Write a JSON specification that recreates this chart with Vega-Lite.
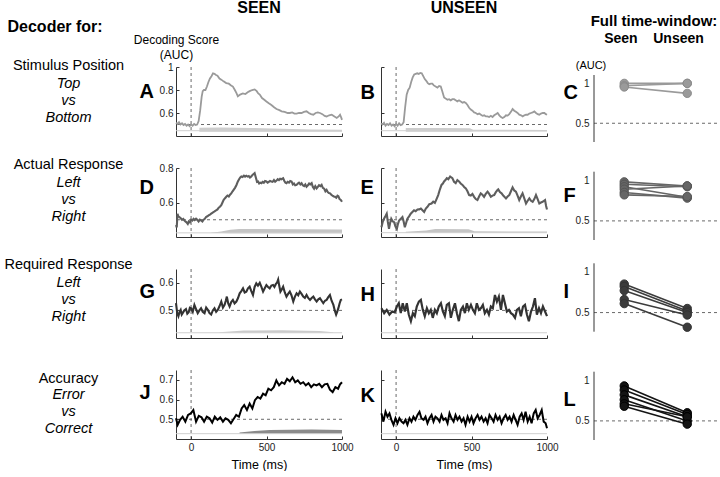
{
 "$schema": "https://vega.github.io/schema/vega-lite/v6.json",
 "padding": 0,
 "background": "white",
 "config": {
  "font": "Liberation Sans",
  "view": {"stroke": null},
  "axis": {"grid": false, "domainColor": "#333", "domainWidth": 1, "labelFont": "Liberation Sans", "labelFontSize": 10, "labelColor": "#222", "titleFont": "Liberation Sans", "titleColor": "#000", "ticks": true, "tickSize": -3, "tickColor": "#333", "tickWidth": 1, "labelFlush": false, "labelOverlap": false, "labelBound": false},
  "title": {"font": "Liberation Sans", "color": "#000", "subtitleFont": "Liberation Sans", "subtitleColor": "#000"}
 },
 "datasets": {
  "A": [{"t":-100,"v":0.515},{"t":-90,"v":0.505},{"t":-80,"v":0.52},{"t":-70,"v":0.5},{"t":-60,"v":0.51},{"t":-50,"v":0.495},{"t":-40,"v":0.505},{"t":-30,"v":0.49},{"t":-20,"v":0.5},{"t":-10,"v":0.485},{"t":0,"v":0.5},{"t":10,"v":0.49},{"t":20,"v":0.505},{"t":30,"v":0.495},{"t":40,"v":0.5},{"t":50,"v":0.53},{"t":60,"v":0.62},{"t":70,"v":0.74},{"t":77,"v":0.79},{"t":85,"v":0.8},{"t":95,"v":0.8},{"t":105,"v":0.83},{"t":115,"v":0.87},{"t":125,"v":0.9},{"t":135,"v":0.92},{"t":145,"v":0.945},{"t":155,"v":0.94},{"t":165,"v":0.93},{"t":175,"v":0.925},{"t":188,"v":0.9},{"t":200,"v":0.89},{"t":215,"v":0.875},{"t":233,"v":0.86},{"t":250,"v":0.855},{"t":265,"v":0.84},{"t":277,"v":0.83},{"t":290,"v":0.8},{"t":300,"v":0.775},{"t":310,"v":0.745},{"t":325,"v":0.76},{"t":343,"v":0.77},{"t":360,"v":0.765},{"t":375,"v":0.78},{"t":388,"v":0.79},{"t":405,"v":0.8},{"t":421,"v":0.805},{"t":435,"v":0.79},{"t":445,"v":0.77},{"t":455,"v":0.76},{"t":470,"v":0.73},{"t":485,"v":0.715},{"t":499,"v":0.7},{"t":515,"v":0.685},{"t":532,"v":0.67},{"t":550,"v":0.65},{"t":566,"v":0.635},{"t":585,"v":0.625},{"t":600,"v":0.615},{"t":620,"v":0.61},{"t":640,"v":0.6},{"t":654,"v":0.6},{"t":670,"v":0.605},{"t":685,"v":0.595},{"t":699,"v":0.594},{"t":715,"v":0.6},{"t":732,"v":0.6},{"t":748,"v":0.61},{"t":765,"v":0.615},{"t":780,"v":0.6},{"t":795,"v":0.59},{"t":810,"v":0.585},{"t":825,"v":0.6},{"t":840,"v":0.605},{"t":854,"v":0.6},{"t":870,"v":0.59},{"t":885,"v":0.575},{"t":898,"v":0.57},{"t":915,"v":0.58},{"t":932,"v":0.585},{"t":950,"v":0.57},{"t":965,"v":0.557},{"t":978,"v":0.57},{"t":987,"v":0.585},{"t":995,"v":0.56},{"t":1000,"v":0.54}],
  "B": [{"t":-100,"v":0.51},{"t":-90,"v":0.5},{"t":-80,"v":0.515},{"t":-70,"v":0.49},{"t":-60,"v":0.505},{"t":-50,"v":0.495},{"t":-40,"v":0.51},{"t":-30,"v":0.49},{"t":-20,"v":0.5},{"t":-10,"v":0.485},{"t":0,"v":0.505},{"t":10,"v":0.49},{"t":20,"v":0.51},{"t":30,"v":0.495},{"t":40,"v":0.5},{"t":50,"v":0.52},{"t":60,"v":0.65},{"t":70,"v":0.76},{"t":80,"v":0.8},{"t":90,"v":0.82},{"t":100,"v":0.87},{"t":110,"v":0.91},{"t":120,"v":0.935},{"t":130,"v":0.94},{"t":140,"v":0.945},{"t":150,"v":0.94},{"t":160,"v":0.948},{"t":170,"v":0.945},{"t":180,"v":0.92},{"t":190,"v":0.895},{"t":200,"v":0.88},{"t":210,"v":0.86},{"t":220,"v":0.85},{"t":230,"v":0.855},{"t":240,"v":0.855},{"t":250,"v":0.84},{"t":262,"v":0.83},{"t":274,"v":0.82},{"t":285,"v":0.835},{"t":296,"v":0.83},{"t":306,"v":0.79},{"t":318,"v":0.735},{"t":330,"v":0.725},{"t":340,"v":0.715},{"t":351,"v":0.72},{"t":362,"v":0.71},{"t":373,"v":0.72},{"t":384,"v":0.72},{"t":395,"v":0.71},{"t":406,"v":0.7},{"t":417,"v":0.71},{"t":429,"v":0.7},{"t":440,"v":0.69},{"t":451,"v":0.695},{"t":462,"v":0.687},{"t":473,"v":0.67},{"t":484,"v":0.645},{"t":495,"v":0.63},{"t":506,"v":0.62},{"t":517,"v":0.605},{"t":528,"v":0.6},{"t":540,"v":0.59},{"t":551,"v":0.595},{"t":562,"v":0.585},{"t":573,"v":0.575},{"t":584,"v":0.58},{"t":595,"v":0.57},{"t":606,"v":0.571},{"t":617,"v":0.565},{"t":628,"v":0.575},{"t":639,"v":0.565},{"t":650,"v":0.58},{"t":661,"v":0.59},{"t":673,"v":0.6},{"t":684,"v":0.58},{"t":695,"v":0.565},{"t":706,"v":0.557},{"t":717,"v":0.565},{"t":728,"v":0.58},{"t":739,"v":0.577},{"t":750,"v":0.59},{"t":761,"v":0.61},{"t":772,"v":0.635},{"t":783,"v":0.62},{"t":794,"v":0.61},{"t":805,"v":0.6},{"t":816,"v":0.585},{"t":828,"v":0.58},{"t":839,"v":0.571},{"t":850,"v":0.58},{"t":861,"v":0.585},{"t":872,"v":0.585},{"t":883,"v":0.595},{"t":894,"v":0.6},{"t":905,"v":0.605},{"t":916,"v":0.614},{"t":927,"v":0.6},{"t":938,"v":0.59},{"t":949,"v":0.585},{"t":960,"v":0.595},{"t":972,"v":0.6},{"t":983,"v":0.6},{"t":992,"v":0.59},{"t":1000,"v":0.585}],
  "D": [{"t":-100,"v":0.47},{"t":-95,"v":0.455},{"t":-90,"v":0.535},{"t":-85,"v":0.52},{"t":-78,"v":0.516},{"t":-70,"v":0.51},{"t":-60,"v":0.5},{"t":-52,"v":0.505},{"t":-45,"v":0.496},{"t":-38,"v":0.49},{"t":-30,"v":0.485},{"t":-22,"v":0.476},{"t":-15,"v":0.49},{"t":-8,"v":0.485},{"t":0,"v":0.5},{"t":8,"v":0.495},{"t":16,"v":0.505},{"t":24,"v":0.498},{"t":33,"v":0.506},{"t":41,"v":0.5},{"t":50,"v":0.49},{"t":58,"v":0.5},{"t":66,"v":0.496},{"t":75,"v":0.49},{"t":83,"v":0.5},{"t":91,"v":0.505},{"t":99,"v":0.516},{"t":108,"v":0.52},{"t":116,"v":0.525},{"t":125,"v":0.53},{"t":133,"v":0.535},{"t":141,"v":0.54},{"t":150,"v":0.545},{"t":158,"v":0.55},{"t":166,"v":0.555},{"t":175,"v":0.56},{"t":183,"v":0.57},{"t":191,"v":0.575},{"t":200,"v":0.584},{"t":208,"v":0.6},{"t":216,"v":0.615},{"t":225,"v":0.625},{"t":233,"v":0.633},{"t":241,"v":0.64},{"t":250,"v":0.635},{"t":258,"v":0.645},{"t":266,"v":0.653},{"t":275,"v":0.665},{"t":283,"v":0.675},{"t":291,"v":0.685},{"t":300,"v":0.7},{"t":310,"v":0.722},{"t":318,"v":0.735},{"t":326,"v":0.745},{"t":333,"v":0.751},{"t":341,"v":0.748},{"t":350,"v":0.756},{"t":358,"v":0.75},{"t":366,"v":0.755},{"t":374,"v":0.75},{"t":382,"v":0.753},{"t":390,"v":0.745},{"t":399,"v":0.751},{"t":407,"v":0.76},{"t":414,"v":0.765},{"t":421,"v":0.77},{"t":429,"v":0.745},{"t":437,"v":0.72},{"t":444,"v":0.722},{"t":451,"v":0.71},{"t":459,"v":0.715},{"t":466,"v":0.712},{"t":474,"v":0.72},{"t":482,"v":0.715},{"t":490,"v":0.725},{"t":499,"v":0.722},{"t":507,"v":0.715},{"t":515,"v":0.72},{"t":523,"v":0.725},{"t":532,"v":0.722},{"t":540,"v":0.72},{"t":549,"v":0.73},{"t":557,"v":0.72},{"t":566,"v":0.727},{"t":574,"v":0.735},{"t":582,"v":0.73},{"t":590,"v":0.738},{"t":599,"v":0.735},{"t":610,"v":0.741},{"t":618,"v":0.725},{"t":625,"v":0.715},{"t":632,"v":0.712},{"t":640,"v":0.72},{"t":649,"v":0.715},{"t":657,"v":0.725},{"t":666,"v":0.722},{"t":674,"v":0.705},{"t":682,"v":0.71},{"t":690,"v":0.7},{"t":699,"v":0.702},{"t":707,"v":0.71},{"t":715,"v":0.715},{"t":724,"v":0.705},{"t":732,"v":0.712},{"t":740,"v":0.7},{"t":749,"v":0.695},{"t":757,"v":0.705},{"t":765,"v":0.692},{"t":774,"v":0.7},{"t":782,"v":0.71},{"t":790,"v":0.705},{"t":799,"v":0.712},{"t":807,"v":0.69},{"t":815,"v":0.68},{"t":823,"v":0.695},{"t":832,"v":0.682},{"t":840,"v":0.69},{"t":848,"v":0.7},{"t":857,"v":0.695},{"t":865,"v":0.702},{"t":873,"v":0.685},{"t":882,"v":0.68},{"t":890,"v":0.665},{"t":898,"v":0.673},{"t":906,"v":0.66},{"t":913,"v":0.655},{"t":921,"v":0.653},{"t":929,"v":0.645},{"t":937,"v":0.64},{"t":946,"v":0.635},{"t":954,"v":0.633},{"t":962,"v":0.628},{"t":970,"v":0.64},{"t":976,"v":0.637},{"t":984,"v":0.62},{"t":992,"v":0.615},{"t":1000,"v":0.604}],
  "E": [{"t":-97,"v":0.457},{"t":-88,"v":0.49},{"t":-80,"v":0.506},{"t":-71,"v":0.52},{"t":-62,"v":0.535},{"t":-55,"v":0.49},{"t":-47,"v":0.447},{"t":-40,"v":0.48},{"t":-32,"v":0.506},{"t":-22,"v":0.49},{"t":-13,"v":0.486},{"t":-4,"v":0.46},{"t":5,"v":0.447},{"t":12,"v":0.475},{"t":20,"v":0.496},{"t":30,"v":0.505},{"t":42,"v":0.516},{"t":50,"v":0.49},{"t":58,"v":0.457},{"t":66,"v":0.48},{"t":75,"v":0.506},{"t":86,"v":0.52},{"t":97,"v":0.535},{"t":108,"v":0.545},{"t":119,"v":0.555},{"t":130,"v":0.55},{"t":142,"v":0.559},{"t":153,"v":0.56},{"t":164,"v":0.565},{"t":175,"v":0.555},{"t":186,"v":0.545},{"t":197,"v":0.565},{"t":208,"v":0.575},{"t":220,"v":0.59},{"t":235,"v":0.594},{"t":246,"v":0.605},{"t":257,"v":0.598},{"t":268,"v":0.62},{"t":279,"v":0.643},{"t":290,"v":0.675},{"t":301,"v":0.702},{"t":310,"v":0.71},{"t":318,"v":0.722},{"t":327,"v":0.73},{"t":336,"v":0.741},{"t":346,"v":0.735},{"t":358,"v":0.751},{"t":366,"v":0.745},{"t":373,"v":0.741},{"t":384,"v":0.72},{"t":395,"v":0.712},{"t":406,"v":0.73},{"t":417,"v":0.722},{"t":428,"v":0.71},{"t":440,"v":0.702},{"t":451,"v":0.69},{"t":462,"v":0.682},{"t":473,"v":0.665},{"t":484,"v":0.643},{"t":495,"v":0.64},{"t":506,"v":0.65},{"t":517,"v":0.633},{"t":528,"v":0.62},{"t":539,"v":0.614},{"t":550,"v":0.635},{"t":561,"v":0.653},{"t":572,"v":0.645},{"t":583,"v":0.633},{"t":594,"v":0.65},{"t":606,"v":0.663},{"t":617,"v":0.65},{"t":628,"v":0.633},{"t":639,"v":0.64},{"t":650,"v":0.643},{"t":661,"v":0.66},{"t":672,"v":0.672},{"t":677,"v":0.676},{"t":688,"v":0.66},{"t":699,"v":0.653},{"t":710,"v":0.64},{"t":721,"v":0.63},{"t":728,"v":0.624},{"t":739,"v":0.635},{"t":750,"v":0.643},{"t":761,"v":0.665},{"t":772,"v":0.688},{"t":783,"v":0.67},{"t":794,"v":0.663},{"t":805,"v":0.64},{"t":816,"v":0.614},{"t":827,"v":0.635},{"t":838,"v":0.653},{"t":849,"v":0.625},{"t":861,"v":0.594},{"t":872,"v":0.61},{"t":883,"v":0.624},{"t":894,"v":0.61},{"t":905,"v":0.604},{"t":916,"v":0.62},{"t":927,"v":0.643},{"t":938,"v":0.62},{"t":949,"v":0.594},{"t":960,"v":0.6},{"t":971,"v":0.604},{"t":980,"v":0.61},{"t":987,"v":0.614},{"t":994,"v":0.58},{"t":1000,"v":0.559}],
  "G": [{"t":-100,"v":0.526},{"t":-92,"v":0.49},{"t":-84,"v":0.479},{"t":-76,"v":0.495},{"t":-69,"v":0.502},{"t":-62,"v":0.485},{"t":-56,"v":0.49},{"t":-45,"v":0.5},{"t":-34,"v":0.505},{"t":-25,"v":0.488},{"t":-16,"v":0.493},{"t":-8,"v":0.51},{"t":0,"v":0.508},{"t":11,"v":0.495},{"t":22,"v":0.52},{"t":33,"v":0.505},{"t":44,"v":0.49},{"t":55,"v":0.5},{"t":66,"v":0.508},{"t":77,"v":0.495},{"t":89,"v":0.49},{"t":100,"v":0.51},{"t":111,"v":0.502},{"t":122,"v":0.49},{"t":133,"v":0.485},{"t":144,"v":0.5},{"t":155,"v":0.508},{"t":166,"v":0.495},{"t":177,"v":0.502},{"t":188,"v":0.515},{"t":200,"v":0.532},{"t":211,"v":0.51},{"t":222,"v":0.52},{"t":230,"v":0.535},{"t":237,"v":0.55},{"t":246,"v":0.525},{"t":255,"v":0.514},{"t":266,"v":0.53},{"t":277,"v":0.538},{"t":288,"v":0.525},{"t":300,"v":0.532},{"t":311,"v":0.545},{"t":322,"v":0.562},{"t":333,"v":0.57},{"t":344,"v":0.58},{"t":355,"v":0.565},{"t":366,"v":0.568},{"t":377,"v":0.58},{"t":388,"v":0.586},{"t":399,"v":0.57},{"t":410,"v":0.556},{"t":421,"v":0.585},{"t":432,"v":0.598},{"t":443,"v":0.59},{"t":455,"v":0.6},{"t":466,"v":0.585},{"t":477,"v":0.568},{"t":488,"v":0.58},{"t":499,"v":0.592},{"t":510,"v":0.585},{"t":521,"v":0.58},{"t":532,"v":0.59},{"t":543,"v":0.592},{"t":552,"v":0.585},{"t":561,"v":0.595},{"t":569,"v":0.6},{"t":577,"v":0.612},{"t":584,"v":0.59},{"t":592,"v":0.568},{"t":600,"v":0.575},{"t":610,"v":0.586},{"t":621,"v":0.565},{"t":632,"v":0.55},{"t":643,"v":0.56},{"t":654,"v":0.568},{"t":665,"v":0.555},{"t":677,"v":0.532},{"t":688,"v":0.55},{"t":699,"v":0.562},{"t":710,"v":0.555},{"t":721,"v":0.568},{"t":732,"v":0.56},{"t":743,"v":0.55},{"t":754,"v":0.545},{"t":765,"v":0.556},{"t":776,"v":0.545},{"t":788,"v":0.538},{"t":799,"v":0.545},{"t":810,"v":0.55},{"t":821,"v":0.54},{"t":832,"v":0.532},{"t":843,"v":0.54},{"t":854,"v":0.544},{"t":865,"v":0.535},{"t":876,"v":0.526},{"t":887,"v":0.535},{"t":898,"v":0.538},{"t":909,"v":0.548},{"t":920,"v":0.556},{"t":931,"v":0.535},{"t":943,"v":0.52},{"t":952,"v":0.5},{"t":961,"v":0.485},{"t":968,"v":0.495},{"t":976,"v":0.508},{"t":984,"v":0.525},{"t":992,"v":0.538},{"t":1000,"v":0.54}],
  "H": [{"t":-97,"v":0.508},{"t":-79,"v":0.49},{"t":-62,"v":0.502},{"t":-44,"v":0.485},{"t":-26,"v":0.496},{"t":-9,"v":0.493},{"t":5,"v":0.514},{"t":18,"v":0.526},{"t":31,"v":0.49},{"t":44,"v":0.526},{"t":58,"v":0.496},{"t":71,"v":0.526},{"t":84,"v":0.485},{"t":98,"v":0.461},{"t":111,"v":0.49},{"t":124,"v":0.479},{"t":137,"v":0.514},{"t":151,"v":0.532},{"t":164,"v":0.538},{"t":177,"v":0.502},{"t":190,"v":0.479},{"t":204,"v":0.508},{"t":217,"v":0.49},{"t":230,"v":0.502},{"t":243,"v":0.473},{"t":257,"v":0.502},{"t":270,"v":0.49},{"t":283,"v":0.514},{"t":297,"v":0.526},{"t":310,"v":0.496},{"t":323,"v":0.479},{"t":336,"v":0.52},{"t":350,"v":0.526},{"t":363,"v":0.473},{"t":376,"v":0.502},{"t":390,"v":0.526},{"t":403,"v":0.49},{"t":416,"v":0.461},{"t":429,"v":0.502},{"t":443,"v":0.514},{"t":456,"v":0.49},{"t":469,"v":0.526},{"t":482,"v":0.502},{"t":496,"v":0.52},{"t":509,"v":0.502},{"t":522,"v":0.49},{"t":535,"v":0.526},{"t":549,"v":0.502},{"t":562,"v":0.508},{"t":575,"v":0.52},{"t":588,"v":0.49},{"t":602,"v":0.502},{"t":615,"v":0.485},{"t":628,"v":0.514},{"t":641,"v":0.508},{"t":655,"v":0.556},{"t":668,"v":0.532},{"t":681,"v":0.55},{"t":695,"v":0.502},{"t":708,"v":0.556},{"t":721,"v":0.526},{"t":734,"v":0.496},{"t":748,"v":0.502},{"t":761,"v":0.49},{"t":774,"v":0.485},{"t":788,"v":0.473},{"t":801,"v":0.502},{"t":814,"v":0.508},{"t":827,"v":0.479},{"t":841,"v":0.514},{"t":854,"v":0.52},{"t":867,"v":0.485},{"t":880,"v":0.461},{"t":894,"v":0.496},{"t":907,"v":0.514},{"t":920,"v":0.544},{"t":933,"v":0.485},{"t":947,"v":0.508},{"t":960,"v":0.49},{"t":973,"v":0.514},{"t":987,"v":0.496},{"t":1000,"v":0.479}],
  "J": [{"t":-100,"v":0.505},{"t":-89,"v":0.472},{"t":-73,"v":0.497},{"t":-56,"v":0.513},{"t":-38,"v":0.488},{"t":-20,"v":0.522},{"t":-2,"v":0.53},{"t":15,"v":0.547},{"t":33,"v":0.488},{"t":51,"v":0.517},{"t":69,"v":0.51},{"t":86,"v":0.488},{"t":104,"v":0.513},{"t":122,"v":0.505},{"t":140,"v":0.483},{"t":157,"v":0.513},{"t":175,"v":0.497},{"t":193,"v":0.51},{"t":211,"v":0.488},{"t":228,"v":0.505},{"t":246,"v":0.497},{"t":264,"v":0.48},{"t":281,"v":0.5},{"t":299,"v":0.522},{"t":317,"v":0.513},{"t":335,"v":0.555},{"t":352,"v":0.572},{"t":370,"v":0.547},{"t":388,"v":0.58},{"t":406,"v":0.555},{"t":423,"v":0.597},{"t":441,"v":0.613},{"t":459,"v":0.605},{"t":477,"v":0.63},{"t":494,"v":0.622},{"t":512,"v":0.655},{"t":530,"v":0.647},{"t":548,"v":0.663},{"t":565,"v":0.697},{"t":583,"v":0.672},{"t":601,"v":0.688},{"t":619,"v":0.68},{"t":636,"v":0.705},{"t":654,"v":0.693},{"t":672,"v":0.713},{"t":690,"v":0.688},{"t":707,"v":0.697},{"t":725,"v":0.68},{"t":743,"v":0.688},{"t":760,"v":0.672},{"t":778,"v":0.683},{"t":796,"v":0.663},{"t":814,"v":0.677},{"t":831,"v":0.672},{"t":849,"v":0.68},{"t":867,"v":0.663},{"t":885,"v":0.677},{"t":903,"v":0.68},{"t":920,"v":0.65},{"t":938,"v":0.638},{"t":956,"v":0.663},{"t":974,"v":0.655},{"t":987,"v":0.677},{"t":1000,"v":0.688}],
  "K": [{"t":-97,"v":0.53},{"t":-84,"v":0.488},{"t":-70,"v":0.538},{"t":-57,"v":0.513},{"t":-44,"v":0.53},{"t":-31,"v":0.497},{"t":-17,"v":0.472},{"t":-4,"v":0.505},{"t":9,"v":0.48},{"t":22,"v":0.505},{"t":36,"v":0.488},{"t":49,"v":0.48},{"t":62,"v":0.497},{"t":75,"v":0.472},{"t":89,"v":0.505},{"t":102,"v":0.488},{"t":115,"v":0.513},{"t":128,"v":0.497},{"t":142,"v":0.522},{"t":155,"v":0.538},{"t":168,"v":0.505},{"t":182,"v":0.497},{"t":195,"v":0.513},{"t":208,"v":0.48},{"t":221,"v":0.505},{"t":235,"v":0.522},{"t":248,"v":0.488},{"t":261,"v":0.513},{"t":274,"v":0.505},{"t":288,"v":0.488},{"t":301,"v":0.522},{"t":314,"v":0.497},{"t":328,"v":0.505},{"t":341,"v":0.48},{"t":354,"v":0.53},{"t":367,"v":0.505},{"t":381,"v":0.488},{"t":394,"v":0.522},{"t":407,"v":0.497},{"t":420,"v":0.513},{"t":434,"v":0.488},{"t":447,"v":0.505},{"t":460,"v":0.472},{"t":474,"v":0.513},{"t":487,"v":0.488},{"t":500,"v":0.513},{"t":513,"v":0.48},{"t":527,"v":0.505},{"t":540,"v":0.522},{"t":553,"v":0.497},{"t":566,"v":0.513},{"t":580,"v":0.488},{"t":593,"v":0.505},{"t":606,"v":0.48},{"t":619,"v":0.522},{"t":633,"v":0.505},{"t":646,"v":0.488},{"t":659,"v":0.522},{"t":673,"v":0.497},{"t":686,"v":0.513},{"t":699,"v":0.48},{"t":712,"v":0.505},{"t":726,"v":0.522},{"t":739,"v":0.497},{"t":752,"v":0.513},{"t":765,"v":0.488},{"t":779,"v":0.522},{"t":792,"v":0.497},{"t":805,"v":0.472},{"t":819,"v":0.513},{"t":832,"v":0.53},{"t":845,"v":0.497},{"t":858,"v":0.538},{"t":872,"v":0.488},{"t":885,"v":0.513},{"t":898,"v":0.48},{"t":912,"v":0.53},{"t":925,"v":0.547},{"t":938,"v":0.505},{"t":951,"v":0.522},{"t":965,"v":0.547},{"t":978,"v":0.488},{"t":991,"v":0.48},{"t":1000,"v":0.455}],
  "bA": [{"t":55,"lo":0.438,"hi":0.472},{"t":200,"lo":0.438,"hi":0.474},{"t":400,"lo":0.438,"hi":0.47},{"t":600,"lo":0.438,"hi":0.462},{"t":800,"lo":0.438,"hi":0.457},{"t":1000,"lo":0.438,"hi":0.454}],
  "bB": [{"t":64,"lo":0.437,"hi":0.47},{"t":300,"lo":0.437,"hi":0.47},{"t":490,"lo":0.437,"hi":0.468},{"t":510,"lo":0.44,"hi":0.455},{"t":1000,"lo":0.44,"hi":0.452}],
  "bD": [{"t":133,"lo":0.423,"hi":0.425},{"t":200,"lo":0.423,"hi":0.432},{"t":260,"lo":0.422,"hi":0.442},{"t":320,"lo":0.422,"hi":0.447},{"t":1000,"lo":0.422,"hi":0.444}],
  "bE": [{"t":64,"lo":0.424,"hi":0.43},{"t":200,"lo":0.424,"hi":0.438},{"t":260,"lo":0.424,"hi":0.446},{"t":480,"lo":0.424,"hi":0.445},{"t":520,"lo":0.424,"hi":0.433},{"t":1000,"lo":0.424,"hi":0.432}],
  "bG": [{"t":188,"lo":0.419,"hi":0.421},{"t":350,"lo":0.419,"hi":0.427},{"t":600,"lo":0.419,"hi":0.428},{"t":850,"lo":0.419,"hi":0.425},{"t":942,"lo":0.419,"hi":0.421}],
  "bJ": [{"t":321,"lo":0.427,"hi":0.433},{"t":420,"lo":0.427,"hi":0.44},{"t":520,"lo":0.427,"hi":0.446},{"t":800,"lo":0.427,"hi":0.448},{"t":1000,"lo":0.427,"hi":0.446}],
  "C": [{"s":1,"cond":"Seen","v":1.0},{"s":1,"cond":"Unseen","v":1.0},{"s":2,"cond":"Seen","v":0.97},{"s":2,"cond":"Unseen","v":1.0},{"s":3,"cond":"Seen","v":0.955},{"s":3,"cond":"Unseen","v":0.875}],
  "F": [{"s":1,"cond":"Seen","v":0.98},{"s":1,"cond":"Unseen","v":0.93},{"s":2,"cond":"Seen","v":0.95},{"s":2,"cond":"Unseen","v":0.92},{"s":3,"cond":"Seen","v":0.92},{"s":3,"cond":"Unseen","v":0.79},{"s":4,"cond":"Seen","v":0.89},{"s":4,"cond":"Unseen","v":0.93},{"s":5,"cond":"Seen","v":0.85},{"s":5,"cond":"Unseen","v":0.78},{"s":6,"cond":"Seen","v":0.82},{"s":6,"cond":"Unseen","v":0.8}],
  "I": [{"s":1,"cond":"Seen","v":0.85},{"s":1,"cond":"Unseen","v":0.55},{"s":2,"cond":"Seen","v":0.82},{"s":2,"cond":"Unseen","v":0.52},{"s":3,"cond":"Seen","v":0.77},{"s":3,"cond":"Unseen","v":0.5},{"s":4,"cond":"Seen","v":0.66},{"s":4,"cond":"Unseen","v":0.47},{"s":5,"cond":"Seen","v":0.61},{"s":5,"cond":"Unseen","v":0.32}],
  "L": [{"s":1,"cond":"Seen","v":0.93},{"s":1,"cond":"Unseen","v":0.6},{"s":2,"cond":"Seen","v":0.88},{"s":2,"cond":"Unseen","v":0.58},{"s":3,"cond":"Seen","v":0.82},{"s":3,"cond":"Unseen","v":0.55},{"s":4,"cond":"Seen","v":0.76},{"s":4,"cond":"Unseen","v":0.5},{"s":5,"cond":"Seen","v":0.71},{"s":5,"cond":"Unseen","v":0.55},{"s":6,"cond":"Seen","v":0.68},{"s":6,"cond":"Unseen","v":0.46}]
 },
 "columns": 4,
 "align": "each",
 "bounds": "flush",
 "spacing": {"row": 32, "column": 39},
 "concat": [
  {"width":137,"height":69,"data":{"values":[{}]},"mark":{"type":"text"},
   "encoding":{"text":{"value":""},"x":{"datum":0,"type":"quantitative","axis":{"orient":"top","domain":false,"ticks":false,"labels":false,"grid":false,"title":"Decoder for:","titleFontSize":16,"titleFontWeight":"bold","titleX":7,"titleY":-35.5,"titleAlign":"left","titleBaseline":"alphabetic"}}},
   "title":{"text":"Stimulus Position","subtitle":["Top","vs","Bottom"],"fontSize":14.5,"fontWeight":"normal","subtitleFontSize":14.5,"subtitleFontStyle":"italic","subtitleLineHeight":17,"subtitlePadding":4,"anchor":"middle","frame":"group","offset":-107}},
  {"width":166,"height":69,
   "title":{"text":"SEEN","fontSize":16,"fontWeight":"bold","anchor":"middle","frame":"group","offset":17},
   "layer":[
    {"data":{"name":"bA"},"mark":{"type":"area","color":"#cdcdcd"},"encoding":{"x":{"field":"t","type":"quantitative"},"y":{"field":"lo","type":"quantitative"},"y2":{"field":"hi"}}},
    {"data":{"values":[{}]},"mark":{"type":"rule","color":"#cfcfcf","strokeWidth":1},"encoding":{"y":{"datum":0.446}}},
    {"data":{"values":[{}]},"mark":{"type":"rule","color":"#444","strokeWidth":0.8,"strokeDash":[3,3]},"encoding":{"y":{"datum":0.5}}},
    {"data":{"values":[{}]},"mark":{"type":"rule","color":"#444","strokeWidth":0.8,"strokeDash":[3,3]},"encoding":{"x":{"datum":0}}},
    {"data":{"name":"A"},"mark":{"type":"line","color":"#9a9a9a","strokeWidth":1.8},"encoding":{
      "x":{"field":"t","type":"quantitative","scale":{"domain":[-100,1000],"nice":false},"axis":{"values":[0,500,1000],"labels":false,"title":["Decoding Score","(AUC)"],"titleFontSize":12,"titleFontWeight":"normal","titleX":0,"titleY":-93,"titleAlign":"center","titleBaseline":"alphabetic","titleLineHeight":15}},
      "y":{"field":"v","type":"quantitative","scale":{"domain":[0.4,1],"nice":false,"zero":false},"axis":{"values":[0.6,0.8,1],"tickCount":3,"labelOverlap":false,"format":"~g","labelPadding":6,"title":"A","titleAngle":0,"titleFontSize":20,"titleFontWeight":"bold","titleX":-37,"titleY":24,"titleAlign":"left","titleBaseline":"middle"}}}}
   ]},
  {"width":166,"height":69,
   "title":{"text":"UNSEEN","fontSize":16,"fontWeight":"bold","anchor":"middle","frame":"group","offset":50.5},
   "layer":[
    {"data":{"name":"bB"},"mark":{"type":"area","color":"#cdcdcd"},"encoding":{"x":{"field":"t","type":"quantitative"},"y":{"field":"lo","type":"quantitative"},"y2":{"field":"hi"}}},
    {"data":{"values":[{}]},"mark":{"type":"rule","color":"#cfcfcf","strokeWidth":1},"encoding":{"y":{"datum":0.446}}},
    {"data":{"values":[{}]},"mark":{"type":"rule","color":"#444","strokeWidth":0.8,"strokeDash":[3,3]},"encoding":{"y":{"datum":0.5}}},
    {"data":{"values":[{}]},"mark":{"type":"rule","color":"#444","strokeWidth":0.8,"strokeDash":[3,3]},"encoding":{"x":{"datum":0}}},
    {"data":{"name":"B"},"mark":{"type":"line","color":"#9a9a9a","strokeWidth":1.8},"encoding":{
      "x":{"field":"t","type":"quantitative","scale":{"domain":[-100,1000],"nice":false},"axis":{"values":[0,500,1000],"labels":false,"title":null}},
      "y":{"field":"v","type":"quantitative","scale":{"domain":[0.4,1],"nice":false,"zero":false},"axis":{"values":[0.6,0.8,1],"labels":false,"title":"B","titleAngle":0,"titleFontSize":20,"titleFontWeight":"bold","titleX":-21,"titleY":25,"titleAlign":"left","titleBaseline":"middle"}}}}
   ]},
  {"width":134,"height":69,
   "title":{"text":"Full time-window:","subtitle":"Seen\u00a0\u00a0\u00a0\u00a0Unseen","fontSize":15,"fontWeight":"bold","subtitleFontSize":14,"subtitleFontWeight":"bold","subtitlePadding":3,"anchor":"middle","frame":"group","offset":13.5,"dx":1},
   "resolve":{"scale":{"x":"independent"},"axis":{"x":"independent"}},
   "layer":[
    {"data":{"values":[{}]},"mark":{"type":"rule","color":"#444","strokeWidth":0.8,"strokeDash":[3,3]},"encoding":{"x":{"datum":0,"type":"quantitative","scale":{"domain":[0,1],"range":[8,134]},"axis":null},"x2":{"datum":1},"y":{"datum":0.5}}},
    {"data":{"values":[{}]},"mark":{"type":"rule","color":"#333","strokeWidth":1},"encoding":{"x":{"datum":0,"type":"quantitative","scale":{"domain":[0,1],"range":[8,134]},"axis":null},"y":{"datum":0.265},"y2":{"datum":1.105}}},
    {"data":{"name":"C"},"mark":{"type":"line","color":"#9a9a9a","strokeWidth":1.6},"encoding":{
      "x":{"field":"cond","type":"ordinal","scale":{"type":"point","paddingOuter":0.97,"align":0.48,"range":[8,134]},"axis":{"orient":"top","labels":false,"domain":false,"ticks":false,"title":"(AUC)","titleFontSize":11,"titleFontWeight":"normal","titleX":4.5,"titleY":1.5,"titleAlign":"center","titleBaseline":"alphabetic"}},
      "y":{"field":"v","type":"quantitative","scale":{"domain":[0.265,1.105],"nice":false,"zero":false,"range":[75,8]},"axis":{"values":[0.5,1],"labelOverlap":false,"format":"~g","domain":false,"ticks":false,"labelPadding":-3,"title":"C","titleAngle":0,"titleFontSize":20,"titleFontWeight":"bold","titleX":-23,"titleY":25.7,"titleAlign":"left","titleBaseline":"middle"}},
      "detail":{"field":"s"}}},
    {"data":{"name":"C"},"mark":{"type":"circle","size":70,"color":"#9a9a9a","opacity":1,"stroke":"#8a8a8a","strokeWidth":1},"encoding":{"x":{"field":"cond","type":"ordinal","scale":{"type":"point","paddingOuter":0.97,"align":0.48,"range":[8,134]},"axis":null},"y":{"field":"v","type":"quantitative"}}}
   ]},
  {"width":137,"height":69,"data":{"values":[{}]},"mark":{"type":"text"},"encoding":{"text":{"value":""}},
   "title":{"text":"Actual Response","subtitle":["Left","vs","Right"],"fontSize":14.5,"fontWeight":"normal","subtitleFontSize":14.5,"subtitleFontStyle":"italic","subtitleLineHeight":17,"subtitlePadding":4,"anchor":"middle","frame":"group","offset":-56.5}},
  {"width":166,"height":69,
   "layer":[
    {"data":{"name":"bD"},"mark":{"type":"area","color":"#c4c4c4"},"encoding":{"x":{"field":"t","type":"quantitative"},"y":{"field":"lo","type":"quantitative"},"y2":{"field":"hi"}}},
    {"data":{"values":[{}]},"mark":{"type":"rule","color":"#cfcfcf","strokeWidth":1},"encoding":{"y":{"datum":0.424}}},
    {"data":{"values":[{}]},"mark":{"type":"rule","color":"#444","strokeWidth":0.8,"strokeDash":[3,3]},"encoding":{"y":{"datum":0.5}}},
    {"data":{"values":[{}]},"mark":{"type":"rule","color":"#444","strokeWidth":0.8,"strokeDash":[3,3]},"encoding":{"x":{"datum":0}}},
    {"data":{"name":"D"},"mark":{"type":"line","color":"#5e5e5e","strokeWidth":2.1},"encoding":{
      "x":{"field":"t","type":"quantitative","scale":{"domain":[-100,1000],"nice":false},"axis":{"values":[0,500,1000],"labels":false,"title":null}},
      "y":{"field":"v","type":"quantitative","scale":{"domain":[0.4,0.8],"nice":false,"zero":false},"axis":{"values":[0.6,0.8],"labelOverlap":false,"format":"~g","labelPadding":6,"title":"D","titleAngle":0,"titleFontSize":20,"titleFontWeight":"bold","titleX":-37,"titleY":19,"titleAlign":"left","titleBaseline":"middle"}}}}
   ]},
  {"width":166,"height":69,
   "layer":[
    {"data":{"name":"bE"},"mark":{"type":"area","color":"#c4c4c4"},"encoding":{"x":{"field":"t","type":"quantitative"},"y":{"field":"lo","type":"quantitative"},"y2":{"field":"hi"}}},
    {"data":{"values":[{}]},"mark":{"type":"rule","color":"#cfcfcf","strokeWidth":1},"encoding":{"y":{"datum":0.425}}},
    {"data":{"values":[{}]},"mark":{"type":"rule","color":"#444","strokeWidth":0.8,"strokeDash":[3,3]},"encoding":{"y":{"datum":0.5}}},
    {"data":{"values":[{}]},"mark":{"type":"rule","color":"#444","strokeWidth":0.8,"strokeDash":[3,3]},"encoding":{"x":{"datum":0}}},
    {"data":{"name":"E"},"mark":{"type":"line","color":"#5e5e5e","strokeWidth":2.1},"encoding":{
      "x":{"field":"t","type":"quantitative","scale":{"domain":[-100,1000],"nice":false},"axis":{"values":[0,500,1000],"labels":false,"title":null}},
      "y":{"field":"v","type":"quantitative","scale":{"domain":[0.4,0.8],"nice":false,"zero":false},"axis":{"values":[0.6,0.8],"labels":false,"title":"E","titleAngle":0,"titleFontSize":20,"titleFontWeight":"bold","titleX":-21,"titleY":19.5,"titleAlign":"left","titleBaseline":"middle"}}}}
   ]},
  {"width":134,"height":69,
   "resolve":{"scale":{"x":"independent"},"axis":{"x":"independent"}},
   "layer":[
    {"data":{"values":[{}]},"mark":{"type":"rule","color":"#444","strokeWidth":0.8,"strokeDash":[3,3]},"encoding":{"x":{"datum":0,"type":"quantitative","scale":{"domain":[0,1],"range":[8,134]},"axis":null},"x2":{"datum":1},"y":{"datum":0.5}}},
    {"data":{"values":[{}]},"mark":{"type":"rule","color":"#333","strokeWidth":1},"encoding":{"x":{"datum":0,"type":"quantitative","scale":{"domain":[0,1],"range":[8,134]},"axis":null},"y":{"datum":0.265},"y2":{"datum":1.105}}},
    {"data":{"name":"F"},"mark":{"type":"line","color":"#666666","strokeWidth":1.6},"encoding":{
      "x":{"field":"cond","type":"ordinal","scale":{"type":"point","paddingOuter":0.97,"align":0.48,"range":[8,134]},"axis":null},
      "y":{"field":"v","type":"quantitative","scale":{"domain":[0.265,1.105],"nice":false,"zero":false,"range":[72,3.7]},"axis":{"values":[0.5,1],"labelOverlap":false,"format":"~g","domain":false,"ticks":false,"labelPadding":-3,"title":"F","titleAngle":0,"titleFontSize":20,"titleFontWeight":"bold","titleX":-23,"titleY":27,"titleAlign":"left","titleBaseline":"middle"}},
      "detail":{"field":"s"}}},
    {"data":{"name":"F"},"mark":{"type":"circle","size":70,"color":"#666666","opacity":1,"stroke":"#555555","strokeWidth":1},"encoding":{"x":{"field":"cond","type":"ordinal","scale":{"type":"point","paddingOuter":0.97,"align":0.48,"range":[8,134]},"axis":null},"y":{"field":"v","type":"quantitative"}}}
   ]},
  {"width":137,"height":69,"data":{"values":[{}]},"mark":{"type":"text"},"encoding":{"text":{"value":""}},
   "title":{"text":"Required Response","subtitle":["Left","vs","Right"],"fontSize":14.5,"fontWeight":"normal","subtitleFontSize":14.5,"subtitleFontStyle":"italic","subtitleLineHeight":17,"subtitlePadding":4,"anchor":"middle","frame":"group","offset":-55.5}},
  {"width":166,"height":69,
   "layer":[
    {"data":{"name":"bG"},"mark":{"type":"area","color":"#cbcbcb"},"encoding":{"x":{"field":"t","type":"quantitative"},"y":{"field":"lo","type":"quantitative"},"y2":{"field":"hi"}}},
    {"data":{"values":[{}]},"mark":{"type":"rule","color":"#cfcfcf","strokeWidth":1},"encoding":{"y":{"datum":0.419}}},
    {"data":{"values":[{}]},"mark":{"type":"rule","color":"#444","strokeWidth":0.8,"strokeDash":[3,3]},"encoding":{"y":{"datum":0.5}}},
    {"data":{"values":[{}]},"mark":{"type":"rule","color":"#444","strokeWidth":0.8,"strokeDash":[3,3]},"encoding":{"x":{"datum":0}}},
    {"data":{"name":"G"},"mark":{"type":"line","color":"#333333","strokeWidth":2.1},"encoding":{
      "x":{"field":"t","type":"quantitative","scale":{"domain":[-100,1000],"nice":false},"axis":{"values":[0,500,1000],"labels":false,"title":null}},
      "y":{"field":"v","type":"quantitative","scale":{"domain":[0.4,0.65],"nice":false,"zero":false},"axis":{"values":[0.5,0.6],"labelOverlap":false,"format":"~g","labelPadding":6,"title":"G","titleAngle":0,"titleFontSize":20,"titleFontWeight":"bold","titleX":-37,"titleY":22,"titleAlign":"left","titleBaseline":"middle"}}}}
   ]},
  {"width":166,"height":69,
   "layer":[
    {"data":{"values":[{}]},"mark":{"type":"rule","color":"#cfcfcf","strokeWidth":1},"encoding":{"y":{"datum":0.419}}},
    {"data":{"values":[{}]},"mark":{"type":"rule","color":"#444","strokeWidth":0.8,"strokeDash":[3,3]},"encoding":{"y":{"datum":0.5}}},
    {"data":{"values":[{}]},"mark":{"type":"rule","color":"#444","strokeWidth":0.8,"strokeDash":[3,3]},"encoding":{"x":{"datum":0}}},
    {"data":{"name":"H"},"mark":{"type":"line","color":"#333333","strokeWidth":2.2},"encoding":{
      "x":{"field":"t","type":"quantitative","scale":{"domain":[-100,1000],"nice":false},"axis":{"values":[0,500,1000],"labels":false,"title":null}},
      "y":{"field":"v","type":"quantitative","scale":{"domain":[0.4,0.65],"nice":false,"zero":false},"axis":{"values":[0.5,0.6],"labels":false,"title":"H","titleAngle":0,"titleFontSize":20,"titleFontWeight":"bold","titleX":-21,"titleY":25,"titleAlign":"left","titleBaseline":"middle"}}}}
   ]},
  {"width":134,"height":69,
   "resolve":{"scale":{"x":"independent"},"axis":{"x":"independent"}},
   "layer":[
    {"data":{"values":[{}]},"mark":{"type":"rule","color":"#444","strokeWidth":0.8,"strokeDash":[3,3]},"encoding":{"x":{"datum":0,"type":"quantitative","scale":{"domain":[0,1],"range":[8,134]},"axis":null},"x2":{"datum":1},"y":{"datum":0.5}}},
    {"data":{"values":[{}]},"mark":{"type":"rule","color":"#333","strokeWidth":1},"encoding":{"x":{"datum":0,"type":"quantitative","scale":{"domain":[0,1],"range":[8,134]},"axis":null},"y":{"datum":0.265},"y2":{"datum":1.105}}},
    {"data":{"name":"I"},"mark":{"type":"line","color":"#3c3c3c","strokeWidth":1.6},"encoding":{
      "x":{"field":"cond","type":"ordinal","scale":{"type":"point","paddingOuter":0.97,"align":0.48,"range":[8,134]},"axis":null},
      "y":{"field":"v","type":"quantitative","scale":{"domain":[0.265,1.105],"nice":false,"zero":false,"range":[62.7,-5.7]},"axis":{"values":[0.5,1],"labelOverlap":false,"format":"~g","domain":false,"ticks":false,"labelPadding":-3,"title":"I","titleAngle":0,"titleFontSize":20,"titleFontWeight":"bold","titleX":-23,"titleY":22,"titleAlign":"left","titleBaseline":"middle"}},
      "detail":{"field":"s"}}},
    {"data":{"name":"I"},"mark":{"type":"circle","size":70,"color":"#3c3c3c","opacity":1,"stroke":"#333333","strokeWidth":1},"encoding":{"x":{"field":"cond","type":"ordinal","scale":{"type":"point","paddingOuter":0.97,"align":0.48,"range":[8,134]},"axis":null},"y":{"field":"v","type":"quantitative"}}}
   ]},
  {"width":137,"height":69,"data":{"values":[{}]},"mark":{"type":"text"},"encoding":{"text":{"value":""}},
   "title":{"text":"Accuracy","subtitle":["Error","vs","Correct"],"fontSize":14.5,"fontWeight":"normal","subtitleFontSize":14.5,"subtitleFontStyle":"italic","subtitleLineHeight":17,"subtitlePadding":2,"anchor":"middle","frame":"group","offset":-66.5}},
  {"width":166,"height":69,
   "layer":[
    {"data":{"name":"bJ"},"mark":{"type":"area","color":"#8a8a8a"},"encoding":{"x":{"field":"t","type":"quantitative"},"y":{"field":"lo","type":"quantitative"},"y2":{"field":"hi"}}},
    {"data":{"values":[{}]},"mark":{"type":"rule","color":"#cfcfcf","strokeWidth":1},"encoding":{"y":{"datum":0.427}}},
    {"data":{"values":[{}]},"mark":{"type":"rule","color":"#444","strokeWidth":0.8,"strokeDash":[3,3]},"encoding":{"y":{"datum":0.5}}},
    {"data":{"values":[{}]},"mark":{"type":"rule","color":"#444","strokeWidth":0.8,"strokeDash":[3,3]},"encoding":{"x":{"datum":0}}},
    {"data":{"name":"J"},"mark":{"type":"line","color":"#000000","strokeWidth":2},"encoding":{
      "x":{"field":"t","type":"quantitative","scale":{"domain":[-100,1000],"nice":false},"axis":{"values":[0,500,1000],"labelOverlap":false,"format":"d","labels":true,"labelPadding":6,"labelFontSize":10,"title":"Time (ms)","titleFontSize":12.5,"titleFontWeight":"normal","titleY":29.5,"titleBaseline":"alphabetic"}},
      "y":{"field":"v","type":"quantitative","scale":{"domain":[0.4,0.75],"nice":false,"zero":false},"axis":{"values":[0.5,0.6,0.7],"tickCount":3,"labelOverlap":false,"format":"~g","labelPadding":6,"title":"J","titleAngle":0,"titleFontSize":20,"titleFontWeight":"bold","titleX":-37,"titleY":22.5,"titleAlign":"left","titleBaseline":"middle"}}}}
   ]},
  {"width":166,"height":69,
   "layer":[
    {"data":{"values":[{}]},"mark":{"type":"rule","color":"#cfcfcf","strokeWidth":1},"encoding":{"y":{"datum":0.427}}},
    {"data":{"values":[{}]},"mark":{"type":"rule","color":"#444","strokeWidth":0.8,"strokeDash":[3,3]},"encoding":{"y":{"datum":0.5}}},
    {"data":{"values":[{}]},"mark":{"type":"rule","color":"#444","strokeWidth":0.8,"strokeDash":[3,3]},"encoding":{"x":{"datum":0}}},
    {"data":{"name":"K"},"mark":{"type":"line","color":"#000000","strokeWidth":2},"encoding":{
      "x":{"field":"t","type":"quantitative","scale":{"domain":[-100,1000],"nice":false},"axis":{"values":[0,500,1000],"labelOverlap":false,"format":"d","labels":true,"labelPadding":6,"labelFontSize":10,"title":"Time (ms)","titleFontSize":12.5,"titleFontWeight":"normal","titleY":29.5,"titleBaseline":"alphabetic"}},
      "y":{"field":"v","type":"quantitative","scale":{"domain":[0.4,0.75],"nice":false,"zero":false},"axis":{"values":[0.5,0.6,0.7],"labels":false,"title":"K","titleAngle":0,"titleFontSize":20,"titleFontWeight":"bold","titleX":-21,"titleY":25,"titleAlign":"left","titleBaseline":"middle"}}}}
   ]},
  {"width":134,"height":69,
   "resolve":{"scale":{"x":"independent"},"axis":{"x":"independent"}},
   "layer":[
    {"data":{"values":[{}]},"mark":{"type":"rule","color":"#444","strokeWidth":0.8,"strokeDash":[3,3]},"encoding":{"x":{"datum":0,"type":"quantitative","scale":{"domain":[0,1],"range":[8,134]},"axis":null},"x2":{"datum":1},"y":{"datum":0.5}}},
    {"data":{"values":[{}]},"mark":{"type":"rule","color":"#333","strokeWidth":1},"encoding":{"x":{"datum":0,"type":"quantitative","scale":{"domain":[0,1],"range":[8,134]},"axis":null},"y":{"datum":0.265},"y2":{"datum":1.105}}},
    {"data":{"name":"L"},"mark":{"type":"line","color":"#141414","strokeWidth":1.6},"encoding":{
      "x":{"field":"cond","type":"ordinal","scale":{"type":"point","paddingOuter":0.97,"align":0.48,"range":[8,134]},"axis":null},
      "y":{"field":"v","type":"quantitative","scale":{"domain":[0.265,1.105],"nice":false,"zero":false,"range":[70,1.7]},"axis":{"values":[0.5,1],"labelOverlap":false,"format":"~g","domain":false,"ticks":false,"labelPadding":-3,"title":"L","titleAngle":0,"titleFontSize":20,"titleFontWeight":"bold","titleX":-23,"titleY":29,"titleAlign":"left","titleBaseline":"middle"}},
      "detail":{"field":"s"}}},
    {"data":{"name":"L"},"mark":{"type":"circle","size":70,"color":"#141414","opacity":1,"stroke":"#000000","strokeWidth":1},"encoding":{"x":{"field":"cond","type":"ordinal","scale":{"type":"point","paddingOuter":0.97,"align":0.48,"range":[8,134]},"axis":null},"y":{"field":"v","type":"quantitative"}}}
   ]}
 ]
}
